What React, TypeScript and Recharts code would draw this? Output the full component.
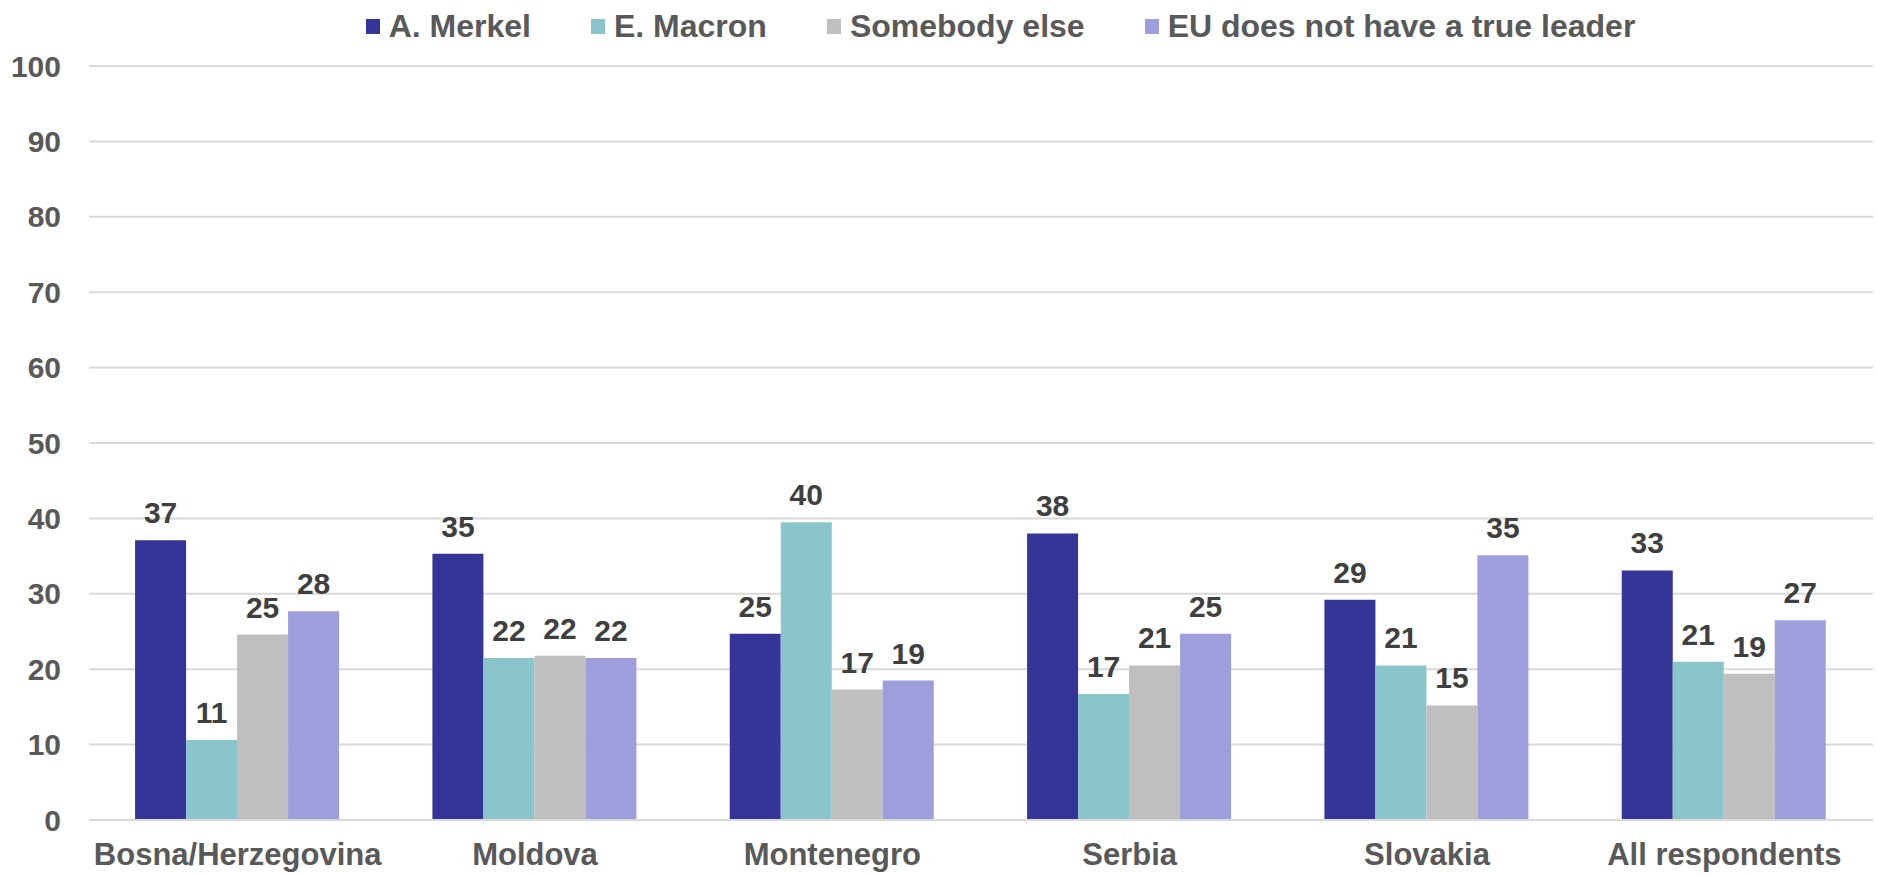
import { BarChart, Bar, XAxis, YAxis, CartesianGrid, Legend, LabelList } from "recharts";

const countries = ["Bosna/Herzegovina", "Moldova", "Montenegro", "Serbia", "Slovakia", "All respondents"];
const merkel = [37.1, 35.3, 24.7, 38.0, 29.2, 33.1];
const macron = [10.6, 21.5, 39.5, 16.7, 20.5, 21.0];
const somebodyElse = [24.6, 21.8, 17.3, 20.5, 15.2, 19.4];
const noLeader = [27.7, 21.5, 18.5, 24.7, 35.1, 26.5];
const yTicks = [0, 10, 20, 30, 40, 50, 60, 70, 80, 90, 100];

const series = [
  { key: "merkel", name: "A. Merkel", color: "#353597" },
  { key: "macron", name: "E. Macron", color: "#8BC5CC" },
  { key: "somebodyElse", name: "Somebody else", color: "#BFBFBF" },
  { key: "noLeader", name: "EU does not have a true leader", color: "#9E9EDC" },
];

const data = countries.map((country, i) => ({
  country,
  merkel: merkel[i],
  macron: macron[i],
  somebodyElse: somebodyElse[i],
  noLeader: noLeader[i],
}));

const FONT = "'Liberation Sans', Arial, sans-serif";

function LegendContent() {
  return (
    <div
      style={{
        height: 60,
        display: "flex",
        justifyContent: "center",
        alignItems: "flex-start",
        fontFamily: FONT,
        fontWeight: "bold",
        fontSize: 32,
        color: "#595959",
        paddingLeft: 128,
      }}
    >
      {series.map((s, i) => (
        <div
          key={s.key}
          style={{
            display: "flex",
            alignItems: "center",
            height: 40,
            marginLeft: i === 0 ? 0 : 60,
          }}
        >
          <span style={{ width: 14, height: 15, background: s.color, marginRight: 9, display: "inline-block" }} />
          <span>{s.name}</span>
        </div>
      ))}
    </div>
  );
}

export default function App() {
  return (
    <div style={{ position: "absolute", left: 0, top: 0, background: "#fff" }}>
      <BarChart
        width={1877}
        height={875}
        data={data}
        margin={{ top: 6, right: 4, bottom: 0, left: 0 }}
        barCategoryGap="15.5%"
        barGap={0}
      >
        <CartesianGrid vertical={false} stroke="#D9D9D9" strokeWidth={2} />
        <XAxis
          dataKey="country"
          height={55}
          tickSize={0}
          tickMargin={23}
          axisLine={{ stroke: "#D9D9D9", strokeWidth: 2 }}
          tickLine={false}
          tick={{ fontSize: 31, fontWeight: "bold", fill: "#595959", fontFamily: FONT }}
        />
        <YAxis
          domain={[0, 100]}
          ticks={yTicks}
          width={89}
          tickSize={0}
          tickMargin={28}
          axisLine={false}
          tickLine={false}
          tick={{ fontSize: 30, fontWeight: "bold", fill: "#595959", fontFamily: FONT }}
        />
        <Legend verticalAlign="top" content={<LegendContent />} />
        {series.map((s) => (
          <Bar key={s.key} dataKey={s.key} name={s.name} fill={s.color} isAnimationActive={false}>
            <LabelList
              dataKey={s.key}
              position="top"
              offset={17}
              formatter={(v: any) => Math.round(Number(v))}
              style={{ fontSize: 30, fontWeight: "bold", fill: "#3F3F3F", fontFamily: FONT }}
            />
          </Bar>
        ))}
      </BarChart>
    </div>
  );
}
